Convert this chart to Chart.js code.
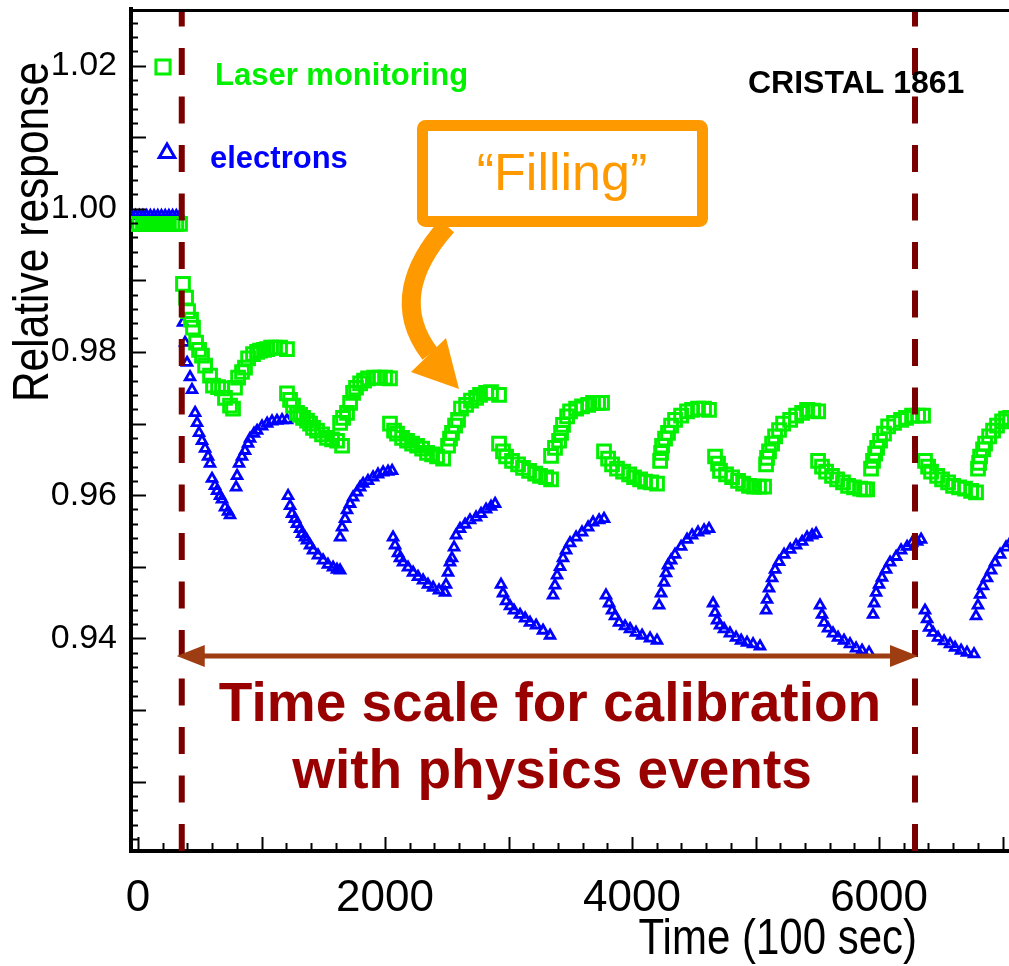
<!DOCTYPE html>
<html>
<head>
<meta charset="utf-8">
<title>CRISTAL 1861 relative response</title>
<script src="https://cdn.jsdelivr.net/npm/chart.js@4.4.1/dist/chart.umd.min.js"></script>
<style>
  html, body { margin: 0; padding: 0; background: #fff; }
  canvas { display: block; }
</style>
</head>
<body>
<canvas id="chart" width="1009" height="966"></canvas>
<script>
/* global Chart */

// Axis limits and labelled ticks
const X_MIN = -57, X_MAX = 7052;
const Y_MIN = 0.9103, Y_MAX = 1.0279;
const xTickValues = [0, 2000, 4000, 6000];
const yTickValues = [0.94, 0.96, 0.98, 1.00, 1.02];

// Start / end of the calibration window (dashed lines), time in 100 s
const calibWindow = [354, 6291];

// Laser monitoring (green squares): time (100 s) and relative response
const laserTime = [
  -50, -20, 10, 40, 70, 100, 130, 160, 190, 220, 250, 280, 310, 340,
  364, 389, 405, 429, 445, 470, 494, 518, 543, 583, 607, 648, 680, 704, 745, 769,
  785, 810, 842, 866, 891, 931, 964, 988, 1020, 1045, 1077, 1109, 1150, 1206,
  1206, 1231, 1255, 1287, 1312, 1336, 1368, 1393, 1417, 1449, 1490, 1530, 1571, 1611, 1652,
  1636, 1660, 1692, 1717, 1741, 1765, 1798, 1830, 1862, 1911, 1959, 2000, 2040,
  2040, 2073, 2097, 2138, 2178, 2219, 2259, 2300, 2340, 2381, 2421, 2470,
  2510, 2526, 2542, 2567, 2591, 2615, 2656, 2696, 2737, 2769, 2818, 2858, 2923,
  2923, 2955, 2980, 3028, 3077, 3117, 3166, 3215, 3255, 3304, 3344,
  3344, 3376, 3409, 3425, 3441, 3474, 3498, 3547, 3595, 3644, 3684, 3725, 3757,
  3773, 3806, 3838, 3878, 3927, 3976, 4016, 4065, 4105, 4154, 4202,
  4227, 4235, 4243, 4267, 4291, 4316, 4348, 4397, 4445, 4486, 4534, 4583, 4623,
  4672, 4696, 4712, 4761, 4810, 4858, 4899, 4947, 4988, 5028, 5069,
  5085, 5093, 5109, 5134, 5158, 5190, 5223, 5280, 5328, 5377, 5417, 5466, 5507,
  5506, 5538, 5571, 5619, 5660, 5708, 5749, 5797, 5846, 5878, 5903,
  5935, 5951, 5968, 5984, 6008, 6040, 6073, 6121, 6178, 6218, 6267, 6316, 6356,
  6372, 6397, 6421, 6470, 6510, 6559, 6599, 6648, 6696, 6745, 6785,
  6801, 6810, 6818, 6842, 6858, 6891, 6923, 6955, 6996, 7028, 7061
];
const laserResp = [
  0.9979, 0.9979, 0.9979, 0.9979, 0.9979, 0.9979, 0.9979, 0.9979, 0.9979, 0.9979, 0.9979, 0.9979, 0.9979, 0.9979,
  0.9895, 0.9876, 0.9857, 0.9845, 0.9834, 0.9813, 0.9803, 0.9795, 0.9781, 0.9767, 0.9753, 0.9751, 0.9749, 0.9736, 0.9725, 0.9721,
  0.9750, 0.9764, 0.9772, 0.9778, 0.9791, 0.9797, 0.9800, 0.9802, 0.9803, 0.9804, 0.9806, 0.9806, 0.9806, 0.9804,
  0.9742, 0.9733, 0.9725, 0.9715, 0.9712, 0.9708, 0.9704, 0.9700, 0.9694, 0.9690, 0.9685, 0.9680, 0.9678, 0.9676, 0.9669,
  0.9701, 0.9708, 0.9715, 0.9729, 0.9743, 0.9750, 0.9756, 0.9760, 0.9763, 0.9764, 0.9764, 0.9764, 0.9763,
  0.9700, 0.9690, 0.9686, 0.9680, 0.9676, 0.9672, 0.9669, 0.9665, 0.9659, 0.9657, 0.9654, 0.9651,
  0.9669, 0.9679, 0.9687, 0.9697, 0.9705, 0.9721, 0.9726, 0.9732, 0.9736, 0.9740, 0.9743, 0.9744, 0.9740,
  0.9672, 0.9661, 0.9654, 0.9648, 0.9643, 0.9638, 0.9634, 0.9630, 0.9627, 0.9625, 0.9622,
  0.9655, 0.9666, 0.9676, 0.9687, 0.9698, 0.9710, 0.9717, 0.9721, 0.9724, 0.9726, 0.9729, 0.9729, 0.9729,
  0.9661, 0.9651, 0.9643, 0.9637, 0.9633, 0.9629, 0.9625, 0.9622, 0.9619, 0.9618, 0.9616,
  0.9648, 0.9659, 0.9669, 0.9679, 0.9687, 0.9697, 0.9705, 0.9711, 0.9717, 0.9719, 0.9721, 0.9721, 0.9719,
  0.9654, 0.9644, 0.9634, 0.9629, 0.9625, 0.9620, 0.9616, 0.9613, 0.9612, 0.9612, 0.9612,
  0.9643, 0.9652, 0.9661, 0.9672, 0.9682, 0.9691, 0.9700, 0.9705, 0.9711, 0.9715, 0.9719, 0.9718, 0.9717,
  0.9648, 0.9640, 0.9633, 0.9627, 0.9622, 0.9618, 0.9613, 0.9611, 0.9609, 0.9608, 0.9608,
  0.9637, 0.9648, 0.9658, 0.9666, 0.9676, 0.9686, 0.9696, 0.9701, 0.9705, 0.9708, 0.9711, 0.9711, 0.9711,
  0.9648, 0.9640, 0.9633, 0.9627, 0.9622, 0.9618, 0.9613, 0.9611, 0.9609, 0.9606, 0.9604,
  0.9637, 0.9645, 0.9654, 0.9664, 0.9672, 0.9682, 0.9690, 0.9697, 0.9703, 0.9707, 0.9708
];

// Electrons (blue triangles): time (100 s) and relative response
const electronTime = [
  -50, -20, 10, 40, 70, 100, 130, 160, 190, 220, 250, 280, 310, 340,
  364, 381, 397, 421, 437, 462, 478, 494, 518, 543, 567, 583, 599, 623, 640, 664, 680, 704, 729, 745,
  794, 802, 818, 842, 866, 891, 907, 939, 964, 1004, 1045, 1085, 1125, 1166, 1206,
  1215, 1231, 1247, 1271, 1287, 1312, 1328, 1352, 1368, 1393, 1417, 1457, 1498, 1538, 1579, 1611, 1636,
  1636, 1652, 1676, 1692, 1717, 1741, 1773, 1798, 1822, 1862, 1903, 1943, 1984, 2024, 2057,
  2065, 2081, 2105, 2121, 2146, 2186, 2227, 2267, 2308, 2348, 2389, 2437, 2486,
  2494, 2510, 2526, 2542, 2559, 2575, 2607, 2648, 2688, 2737, 2777, 2818, 2858, 2891,
  2939, 2955, 2980, 3012, 3044, 3093, 3134, 3174, 3223, 3279, 3336,
  3360, 3376, 3393, 3417, 3441, 3466, 3498, 3547, 3595, 3644, 3684, 3733, 3773,
  3789, 3814, 3838, 3862, 3895, 3943, 3984, 4032, 4081, 4146, 4202,
  4219, 4235, 4259, 4275, 4291, 4316, 4348, 4397, 4445, 4486, 4534, 4583, 4623,
  4656, 4672, 4688, 4712, 4745, 4793, 4842, 4883, 4931, 4980, 5036,
  5085, 5093, 5109, 5134, 5158, 5190, 5231, 5280, 5328, 5377, 5417, 5458, 5490,
  5522, 5538, 5555, 5587, 5627, 5668, 5716, 5765, 5814, 5862, 5919,
  5951, 5960, 5976, 6000, 6024, 6057, 6089, 6138, 6178, 6227, 6267, 6308, 6340,
  6372, 6389, 6405, 6437, 6478, 6526, 6575, 6615, 6664, 6712, 6769,
  6785, 6801, 6818, 6842, 6874, 6907, 6939, 6980, 7028, 7061
];
const electronResp = [
  0.9990, 0.9990, 0.9990, 0.9990, 0.9990, 0.9990, 0.9990, 0.9990, 0.9990, 0.9990, 0.9990, 0.9990, 0.9990, 0.9990,
  0.9841, 0.9813, 0.9785, 0.9765, 0.9747, 0.9715, 0.9701, 0.9687, 0.9676, 0.9665, 0.9654, 0.9644, 0.9623, 0.9613, 0.9606, 0.9599, 0.9594, 0.9583, 0.9577, 0.9572,
  0.9611, 0.9627, 0.9644, 0.9654, 0.9662, 0.9672, 0.9679, 0.9686, 0.9690, 0.9696, 0.9700, 0.9703, 0.9704, 0.9705, 0.9705,
  0.9599, 0.9585, 0.9574, 0.9567, 0.9560, 0.9553, 0.9546, 0.9541, 0.9537, 0.9530, 0.9523, 0.9516, 0.9509, 0.9503, 0.9499, 0.9496, 0.9495,
  0.9541, 0.9555, 0.9567, 0.9579, 0.9588, 0.9597, 0.9604, 0.9611, 0.9616, 0.9620, 0.9625, 0.9629, 0.9632, 0.9633, 0.9634,
  0.9541, 0.9530, 0.9519, 0.9512, 0.9506, 0.9499, 0.9492, 0.9486, 0.9481, 0.9475, 0.9471, 0.9467, 0.9464,
  0.9475, 0.9492, 0.9506, 0.9512, 0.9527, 0.9544, 0.9553, 0.9559, 0.9565, 0.9569, 0.9574, 0.9580, 0.9584, 0.9588,
  0.9475, 0.9463, 0.9452, 0.9445, 0.9439, 0.9433, 0.9428, 0.9422, 0.9418, 0.9411, 0.9404,
  0.9460, 0.9474, 0.9488, 0.9500, 0.9512, 0.9523, 0.9533, 0.9541, 0.9548, 0.9555, 0.9562, 0.9565, 0.9567,
  0.9460, 0.9449, 0.9439, 0.9431, 0.9422, 0.9417, 0.9413, 0.9408, 0.9404, 0.9400, 0.9397,
  0.9446, 0.9463, 0.9478, 0.9491, 0.9502, 0.9509, 0.9517, 0.9528, 0.9538, 0.9544, 0.9548, 0.9551, 0.9553,
  0.9449, 0.9436, 0.9425, 0.9418, 0.9413, 0.9407, 0.9401, 0.9397, 0.9394, 0.9392, 0.9389,
  0.9439, 0.9454, 0.9470, 0.9484, 0.9496, 0.9507, 0.9517, 0.9524, 0.9530, 0.9535, 0.9541, 0.9544, 0.9546,
  0.9446, 0.9433, 0.9422, 0.9414, 0.9407, 0.9401, 0.9397, 0.9392, 0.9386, 0.9383, 0.9380,
  0.9433, 0.9449, 0.9464, 0.9475, 0.9485, 0.9496, 0.9506, 0.9514, 0.9523, 0.9528, 0.9533, 0.9535, 0.9538,
  0.9439, 0.9427, 0.9415, 0.9408, 0.9401, 0.9396, 0.9392, 0.9387, 0.9383, 0.9380, 0.9378,
  0.9431, 0.9446, 0.9461, 0.9473, 0.9484, 0.9495, 0.9506, 0.9517, 0.9527, 0.9533
];

const SANS = '"Liberation Sans", Arial, Helvetica, sans-serif';

const GREEN = '#00f000';
const BLUE = '#0000ff';
const MAROON = '#7a0000';
const ORANGE = '#ff9900';
const BROWN = '#9e3d12';
const DARK_RED = '#990000';

function toPoints(xs, ys) {
  return xs.map((x, i) => ({ x: x, y: ys[i] }));
}

function dashedLine(t) {
  // drawn bottom -> top so the dash pattern starts at the x axis
  return {
    type: 'line',
    data: [{ x: t, y: Y_MIN }, { x: t, y: Y_MAX }],
    borderColor: MAROON,
    borderWidth: 6,
    borderDash: [27, 21.5],
    pointRadius: 0,
    showLine: true,
  };
}

function strokeLine(ctx, x1, y1, x2, y2) {
  ctx.beginPath();
  ctx.moveTo(x1, y1);
  ctx.lineTo(x2, y2);
  ctx.stroke();
}

// condensed text: the slide used a narrow face that is not installed
function narrowText(ctx, text, x, y, squeeze) {
  ctx.save();
  ctx.translate(x, y);
  ctx.scale(squeeze, 1);
  ctx.fillText(text, 0, 0);
  ctx.restore();
}

// Frame, inward ROOT-style ticks, titles and the slide annotations
const overlay = {
  id: 'overlay',
  afterDraw(chart) {
    const { ctx, chartArea: a, scales: { x, y } } = chart;
    ctx.save();

    // top frame line
    ctx.strokeStyle = '#000';
    ctx.lineWidth = 3;
    strokeLine(ctx, a.left, a.top + 1.5, a.right, a.top + 1.5);

    // inward ticks
    ctx.lineWidth = 2;
    for (let t = 0; t <= 7000; t += 200) {
      const px = Math.round(x.getPixelForValue(t)) + 0.5;
      if (px <= a.left + 2 || px > a.right) continue;
      strokeLine(ctx, px, a.bottom, px, a.bottom - (t % 1000 === 0 ? 14 : 8));
    }
    for (let k = 456; k <= 513; k++) {
      const py = Math.round(y.getPixelForValue(k * 0.002)) + 0.5;
      if (py < a.top + 2 || py > a.bottom - 2) continue;
      strokeLine(ctx, a.left, py, a.left + (k % 5 === 0 ? 15 : 7), py);
    }

    // axis titles
    ctx.fillStyle = '#000';
    ctx.font = '50px ' + SANS;
    ctx.textAlign = 'right';
    ctx.textBaseline = 'middle';
    narrowText(ctx, 'Time (100 sec)', 917, 940, 0.84);
    ctx.save();
    ctx.translate(34, 232);
    ctx.rotate(-Math.PI / 2);
    ctx.textAlign = 'center';
    narrowText(ctx, 'Relative response', 0, 0, 0.85);
    ctx.restore();

    // legend
    ctx.lineWidth = 3;
    ctx.fillStyle = 'rgba(0,0,0,0)';
    ctx.strokeStyle = GREEN;
    Chart.helpers.drawPoint(ctx, { pointStyle: 'rect', radius: 10, borderWidth: 3.5 }, 163, 67);
    ctx.strokeStyle = BLUE;
    Chart.helpers.drawPoint(ctx, { pointStyle: 'triangle', radius: 9, borderWidth: 3 }, 167, 153);
    ctx.textAlign = 'left';
    ctx.font = 'bold 31px ' + SANS;
    ctx.fillStyle = GREEN;
    ctx.fillText('Laser monitoring', 215, 76);
    ctx.fillStyle = BLUE;
    ctx.fillText('electrons', 210, 159);

    // crystal id
    ctx.fillStyle = '#000';
    ctx.font = 'bold 32px ' + SANS;
    ctx.fillText('CRISTAL 1861', 748, 84);

    // "Filling" callout
    ctx.strokeStyle = ORANGE;
    ctx.lineWidth = 11;
    ctx.lineJoin = 'round';
    ctx.beginPath();
    ctx.roundRect(422.5, 125.5, 280, 96, 3);
    ctx.stroke();
    ctx.fillStyle = ORANGE;
    ctx.font = '52px ' + SANS;
    ctx.textAlign = 'center';
    ctx.fillText('\u201cFilling\u201d', 562, 176);
    ctx.lineWidth = 19;
    ctx.lineCap = 'butt';
    ctx.beginPath();
    ctx.moveTo(447, 226);
    ctx.bezierCurveTo(412, 265, 396, 310, 430, 354);
    ctx.stroke();
    ctx.beginPath();
    ctx.moveTo(411, 372);
    ctx.lineTo(446, 338);
    ctx.lineTo(459, 389);
    ctx.closePath();
    ctx.fill();

    // calibration window double arrow
    const xl = x.getPixelForValue(calibWindow[0]) - 5;
    const xr = x.getPixelForValue(calibWindow[1]) + 3;
    const ya = 656;
    ctx.strokeStyle = BROWN;
    ctx.fillStyle = BROWN;
    ctx.lineWidth = 5;
    strokeLine(ctx, xl + 20, ya, xr - 20, ya);
    ctx.beginPath();
    ctx.moveTo(xl, ya);
    ctx.lineTo(xl + 28, ya - 11);
    ctx.lineTo(xl + 28, ya + 11);
    ctx.closePath();
    ctx.fill();
    ctx.beginPath();
    ctx.moveTo(xr, ya);
    ctx.lineTo(xr - 28, ya - 11);
    ctx.lineTo(xr - 28, ya + 11);
    ctx.closePath();
    ctx.fill();

    ctx.fillStyle = DARK_RED;
    ctx.font = 'bold 55px ' + SANS;
    ctx.textAlign = 'center';
    ctx.fillText('Time scale for calibration', 550, 706);
    ctx.fillText('with physics events', 552, 773);

    ctx.restore();
  },
};

new Chart(document.getElementById('chart'), {
  type: 'scatter',
  data: {
    datasets: [
      dashedLine(calibWindow[0]),
      dashedLine(calibWindow[1]),
      {
        label: 'Laser monitoring',
        data: toPoints(laserTime, laserResp),
        pointStyle: 'rect',
        pointRadius: 9,
        borderWidth: 3,
        borderColor: GREEN,
        backgroundColor: 'rgba(0,0,0,0)',
      },
      {
        label: 'electrons',
        data: toPoints(electronTime, electronResp),
        pointStyle: 'triangle',
        pointRadius: 5.5,
        borderWidth: 2.8,
        borderColor: BLUE,
        backgroundColor: 'rgba(0,0,0,0)',
      },
    ],
  },
  options: {
    responsive: false,
    animation: false,
    devicePixelRatio: 1,
    layout: { autoPadding: false, padding: { top: 9, right: 0, bottom: 0, left: 0 } },
    plugins: {
      legend: { display: false },
      tooltip: { enabled: false },
    },
    scales: {
      x: {
        type: 'linear',
        min: X_MIN,
        max: X_MAX,
        afterBuildTicks(scale) { scale.ticks = xTickValues.map((v) => ({ value: v })); },
        afterFit(scale) {
          scale.height = 115;
          scale.paddingLeft = 0;
          scale.paddingRight = 0;
        },
        grid: { display: false },
        border: { display: true, color: '#000', width: 4 },
        ticks: {
          autoSkip: false,
          maxRotation: 0,
          padding: 13,
          color: '#000',
          font: { family: SANS, size: 44 },
          callback: (v) => String(v),
        },
      },
      y: {
        type: 'linear',
        min: Y_MIN,
        max: Y_MAX,
        afterBuildTicks(scale) { scale.ticks = yTickValues.map((v) => ({ value: v })); },
        afterFit(scale) {
          scale.width = 131;
          scale.paddingTop = 0;
          scale.paddingBottom = 0;
        },
        grid: { display: false },
        border: { display: true, color: '#000', width: 4 },
        ticks: {
          autoSkip: false,
          padding: 6,
          color: '#000',
          font: { family: SANS, size: 34 },
          callback: (v) => v.toFixed(2),
        },
      },
    },
  },
  plugins: [overlay],
});
</script>
</body>
</html>
